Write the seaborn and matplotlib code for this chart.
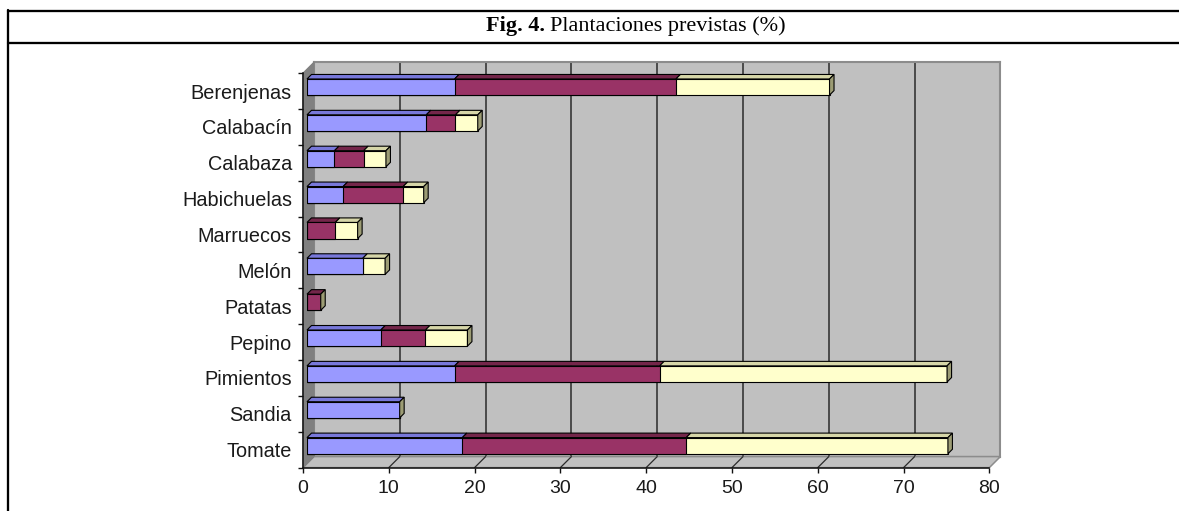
import matplotlib
matplotlib.use("Agg")
import matplotlib.pyplot as plt
import seaborn as sns
import numpy as np
from matplotlib.patches import Polygon
from matplotlib.lines import Line2D
from matplotlib.transforms import IdentityTransform

# ---------------- data ----------------
categories = ["Berenjenas", "Calabacín", "Calabaza", "Habichuelas", "Marruecos",
              "Melón", "Patatas", "Pepino", "Pimientos", "Sandia", "Tomate"]
serie_1 = [17.2, 13.9, 3.2, 4.2, 0.0, 6.5, 0.0, 8.6, 17.2, 10.8, 18.1]
serie_2 = [25.8, 3.4, 3.4, 7.0, 3.3, 0.0, 1.6, 5.2, 23.9, 0.0, 26.1]
serie_3 = [17.9, 2.6, 2.6, 2.4, 2.6, 2.6, 0.0, 4.9, 33.5, 0.0, 30.5]
x_ticks = [0, 10, 20, 30, 40, 50, 60, 70, 80]
title_bold = "Fig. 4."
title_rest = "Plantaciones previstas (%)"

# ---------------- style ----------------
W, H, DPI = 1179, 511, 100
sns.set_theme(style="white")
plt.rcParams["font.family"] = ["Liberation Sans", "DejaVu Sans"]

BLUE, BLUE_TOP = "#9999FF", "#7878DA"
MAG, MAG_TOP = "#993366", "#74264A"
YEL, YEL_TOP, YEL_SIDE = "#FFFFCC", "#D6D6A8", "#9C9C74"
WALL, WALL_EDGE, SIDE = "#C0C0C0", "#8C8C8C", "#808080"

fig = plt.figure(figsize=(W / DPI, H / DPI), dpi=DPI)
fig.patch.set_facecolor("white")


def px_axes(left, top, right, bottom):
    return fig.add_axes([left / W, 1 - bottom / H, (right - left) / W, (bottom - top) / H])


# bar plane, back wall (+7,-7 px) and front plane (-4,+4 px)
BX0, BX1, BY0, BY1 = 307.0, 993.4, 69.1, 463.6
ax_wall = px_axes(BX0 + 7, BY0 - 7, BX1 + 7, BY1 - 7)
ax_front = px_axes(BX0 - 4, BY0 + 4, BX1 - 4, BY1 + 4)
ax_bars = px_axes(BX0, BY0, BX1, BY1)
ax_wall.set_zorder(0)
ax_front.set_zorder(1)
ax_bars.set_zorder(2)

n = len(categories)
ylims = (n - 0.5, -0.5)
for a in (ax_wall, ax_front, ax_bars):
    a.set_xlim(x_ticks[0], x_ticks[-1])
    a.set_ylim(*ylims)

# ---- back wall ----
ax_wall.set_facecolor(WALL)
for s in ax_wall.spines.values():
    s.set_color(WALL_EDGE)
    s.set_linewidth(1.5)
ax_wall.set_xticks(x_ticks[1:-1])
ax_wall.set_yticks([])
ax_wall.grid(axis="x", color="#2a2a2a", linewidth=1.1)
ax_wall.tick_params(length=0, labelbottom=False, labelleft=False)

# ---- floor and side wall (connect front plane to back plane) ----
def disp(ax, x, y):
    return ax.transData.transform((x, y))

fl = [disp(ax_front, 0, ylims[0]), disp(ax_front, 80, ylims[0]),
      disp(ax_wall, 80, ylims[0]), disp(ax_wall, 0, ylims[0])]
fig.add_artist(Polygon(fl, closed=True, facecolor=WALL, edgecolor=WALL_EDGE,
                       linewidth=1.1, transform=IdentityTransform(), zorder=0.5))
sd = [disp(ax_front, 0, ylims[1]), disp(ax_front, 0, ylims[0]),
      disp(ax_wall, 0, ylims[0]), disp(ax_wall, 0, ylims[1])]
fig.add_artist(Polygon(sd, closed=True, facecolor=SIDE, edgecolor=SIDE,
                       linewidth=0.8, transform=IdentityTransform(), zorder=0.5))
for v in x_ticks[1:-1]:
    p0 = disp(ax_wall, v, ylims[0])
    p1 = disp(ax_front, v, ylims[0])
    fig.add_artist(Line2D([p0[0], p1[0]], [p0[1], p1[1]], color="#2a2a2a",
                          linewidth=0.9, transform=IdentityTransform(), zorder=0.6))

# ---- front plane axes (axis lines, ticks, labels) ----
ax_front.patch.set_alpha(0)
for k in ("top", "right"):
    ax_front.spines[k].set_visible(False)
for k in ("left", "bottom"):
    ax_front.spines[k].set_color("#111111")
    ax_front.spines[k].set_linewidth(1.1)
ax_front.set_xticks(x_ticks)
ax_front.set_xticklabels([str(v) for v in x_ticks])
ax_front.set_yticks(range(n))
ax_front.set_yticklabels(categories)
ax_front.set_yticks(np.arange(-0.5, n, 1.0), minor=True)
ax_front.tick_params(axis="x", direction="out", length=3.6, width=1.0, color="#111111",
                     labelsize=14, labelcolor="#1a1a1a", pad=5, bottom=True)
ax_front.tick_params(axis="y", which="major", length=0, labelsize=14.3,
                     labelcolor="#1a1a1a", pad=8, left=True)
ax_front.tick_params(axis="y", which="minor", direction="out", length=3.6, width=1.0,
                     color="#111111", left=True)
ax_front.set_xlabel("")
ax_front.set_ylabel("")

# ---- stacked bars (front faces) ----
s1 = np.array(serie_1)
s12 = s1 + np.array(serie_2)
s123 = s12 + np.array(serie_3)
BW = 0.45
for vals, col in ((s123, YEL), (s12, MAG), (s1, BLUE)):
    sns.barplot(x=vals, y=categories, orient="h", color=col, saturation=1,
                width=BW, edgecolor="black", linewidth=0.8, ax=ax_bars)
ax_bars.set_xlim(x_ticks[0], x_ticks[-1])
ax_bars.set_ylim(*ylims)
ax_bars.axis("off")

# ---- 3D top and side faces ----
DX, DY = 4.5, 4.5
for i in range(n):
    yt, yb = i - BW / 2, i + BW / 2
    segs = [(0, s1[i], BLUE_TOP), (s1[i], s12[i], MAG_TOP), (s12[i], s123[i], YEL_TOP)]
    for l, r, c in segs:
        if r - l <= 0:
            continue
        a = disp(ax_bars, l, yt)
        b = disp(ax_bars, r, yt)
        poly = [a, b, b + (DX, DY), a + (DX, DY)]
        fig.add_artist(Polygon(poly, closed=True, facecolor=c, edgecolor="black",
                               linewidth=0.8, transform=IdentityTransform(), zorder=3))
    a = disp(ax_bars, s123[i], yt)
    b = disp(ax_bars, s123[i], yb)
    poly = [b, a, a + (DX, DY), b + (DX, DY)]
    fig.add_artist(Polygon(poly, closed=True, facecolor=YEL_SIDE, edgecolor="black",
                           linewidth=0.8, transform=IdentityTransform(), zorder=3))

# ---- table borders ----
LW = 2.3 * 72 / DPI
fig.add_artist(Line2D([7.7 / W, 1.0], [1 - 11 / H, 1 - 11 / H], color="black", lw=LW,
                      transform=fig.transFigure))
fig.add_artist(Line2D([7.7 / W, 1.0], [1 - 43 / H, 1 - 43 / H], color="black", lw=LW,
                      transform=fig.transFigure))
fig.add_artist(Line2D([7.7 / W, 7.7 / W], [1 - 10 / H, 0.0], color="black", lw=LW,
                      transform=fig.transFigure))

# ---- title ----
renderer = fig.canvas.get_renderer()
TY = 1 - 26 / H
TFS = 16
t1 = fig.text(0, TY, title_bold, family=["Liberation Serif", "DejaVu Serif"],
              fontweight="bold", fontsize=TFS, va="center", ha="left", color="black")
t2 = fig.text(0, TY, title_rest, family=["Liberation Serif", "DejaVu Serif"],
              fontsize=TFS, va="center", ha="left", color="black")
w1 = t1.get_window_extent(renderer).width
w2 = t2.get_window_extent(renderer).width
gap = 5.0
cx = 636.0
start = cx - (w1 + gap + w2) / 2
t1.set_x(start / W)
t2.set_x((start + w1 + gap) / W)

fig.savefig("out.png", dpi=DPI)
